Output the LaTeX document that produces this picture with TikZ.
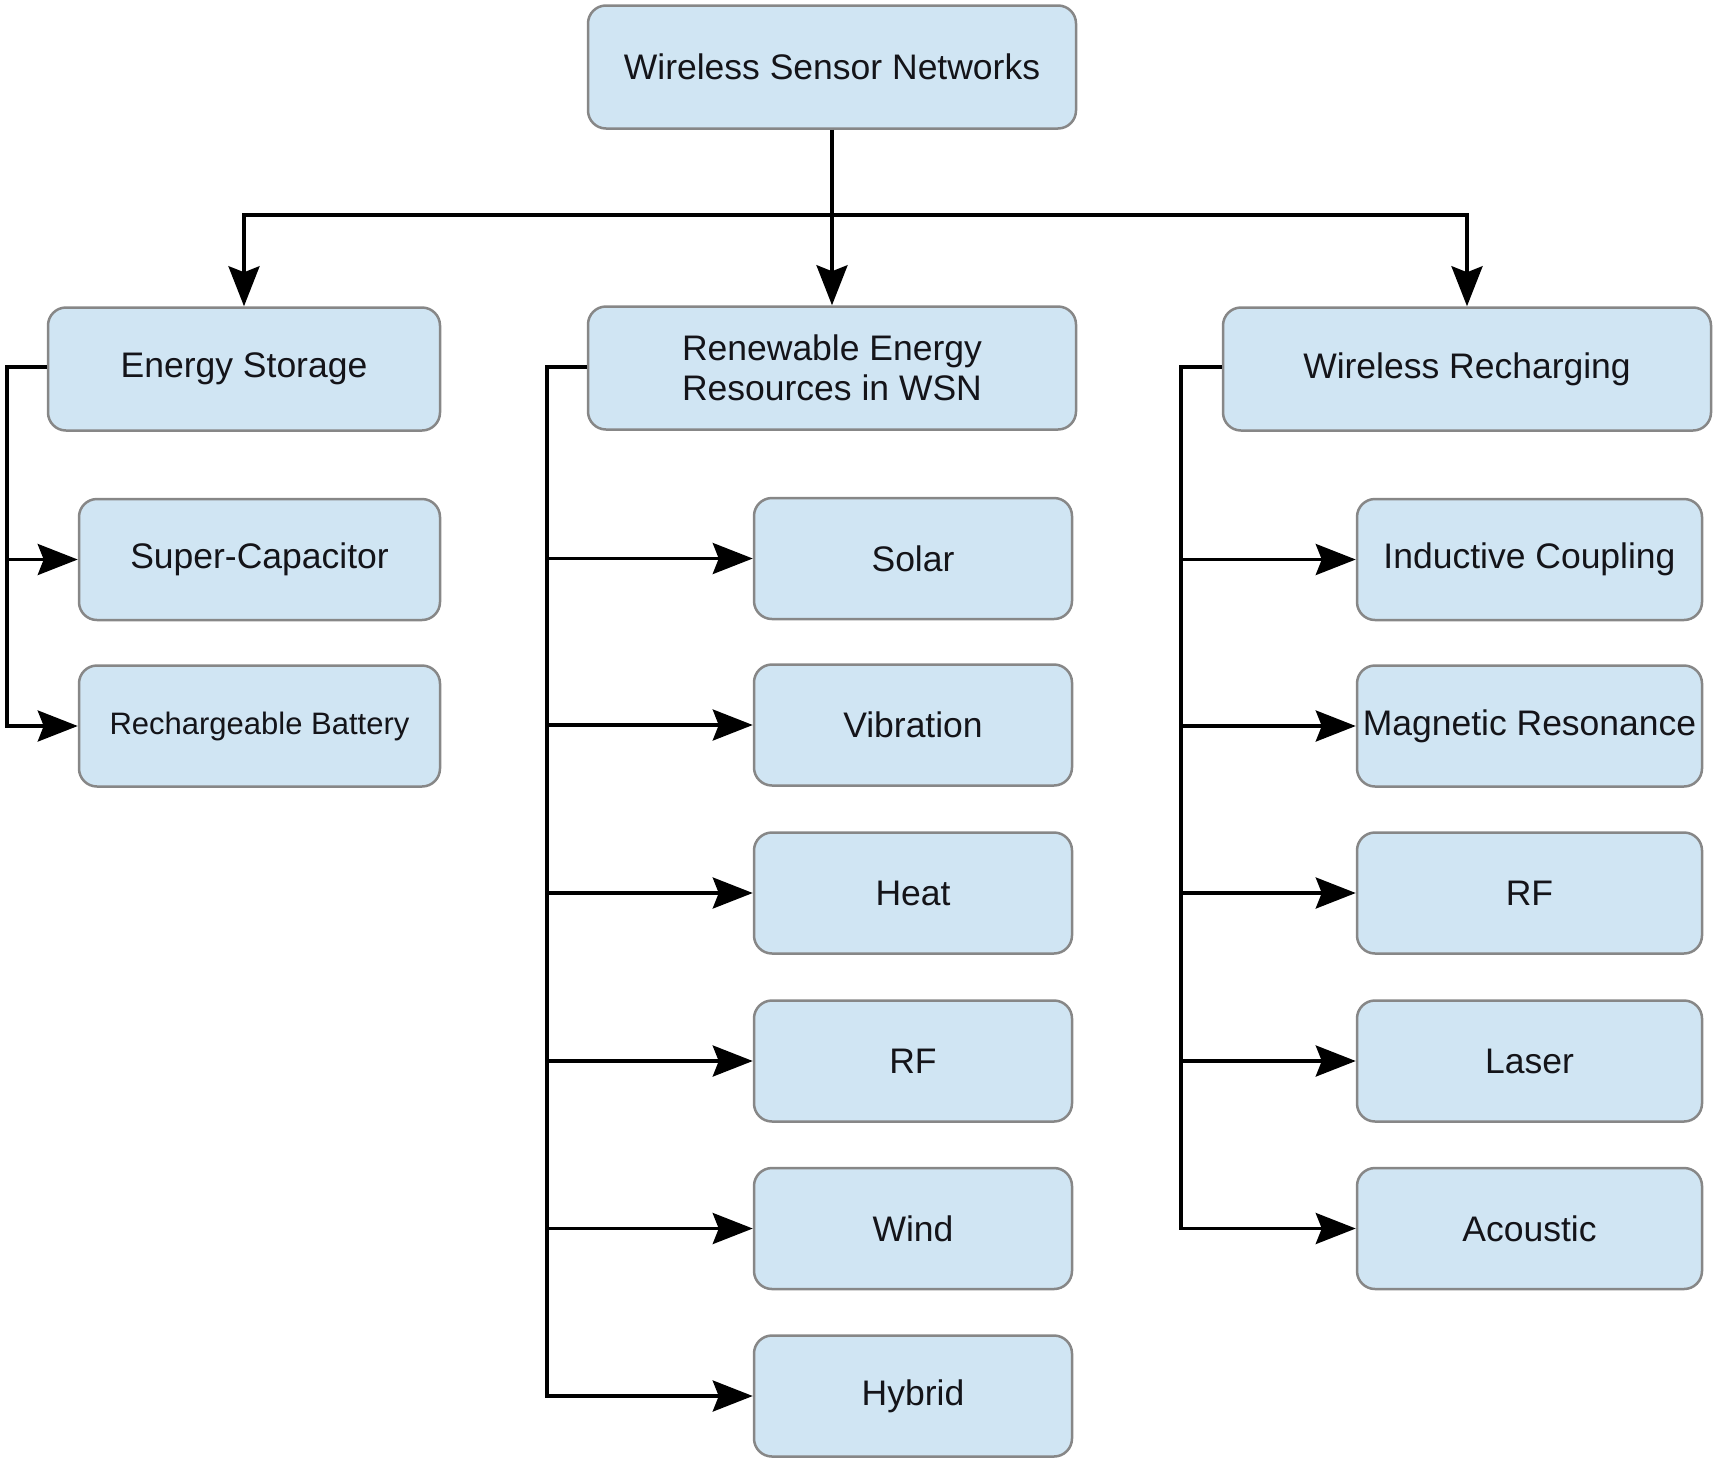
\documentclass[tikz,border=0pt]{standalone}
\usepackage{fontspec}
\setmainfont{Liberation Sans}
\usetikzlibrary{arrows.meta}
\definecolor{boxfill}{RGB}{208,229,243}
\definecolor{boxline}{RGB}{135,135,135}
\definecolor{txt}{RGB}{20,20,25}
\tikzset{
  box/.style={draw=boxline, line width=2.5pt, fill=boxfill, rounded corners=18pt,
    text=txt, font=\fontsize{35.5}{40}\selectfont, align=center, inner sep=0pt},
  conn/.style={draw=black, line width=3.5pt},
  arr/.style={conn, -{Stealth[length=40pt, width=31pt, inset=6pt]}},
}
\begin{document}
\begin{tikzpicture}[x=1pt,y=-1pt]
\useasboundingbox (0,0) rectangle (1715,1462);
% top
\node[box, minimum width=488pt, minimum height=123pt] (wsn) at (832,67) {Wireless Sensor Networks};
% level 2
\node[box, minimum width=392pt, minimum height=123pt] (es) at (244,369) {Energy Storage};
\node[box, minimum width=488pt, minimum height=123pt] (ren) at (832,368) {Renewable Energy\\Resources in WSN};
\node[box, minimum width=488pt, minimum height=123pt] (wr) at (1467,369) {Wireless Recharging};
% left children
\node[box, minimum width=361pt, minimum height=121pt] (sc) at (259.5,559.5) {Super-Capacitor};
\node[box, minimum width=361pt, minimum height=121pt, font=\fontsize{31}{36}\selectfont] (rb) at (259.5,726) {Rechargeable Battery};
% middle children
\node[box, minimum width=318pt, minimum height=121pt] (so) at (913,558.5) {Solar};
\node[box, minimum width=318pt, minimum height=121pt] (vi) at (913,725) {Vibration};
\node[box, minimum width=318pt, minimum height=121pt] (he) at (913,893) {Heat};
\node[box, minimum width=318pt, minimum height=121pt] (rf1) at (913,1061) {RF};
\node[box, minimum width=318pt, minimum height=121pt] (wi) at (913,1228.5) {Wind};
\node[box, minimum width=318pt, minimum height=121pt] (hy) at (913,1396) {Hybrid};
% right children
\node[box, minimum width=345pt, minimum height=121pt] (ic) at (1529.5,559.5) {Inductive Coupling};
\node[box, minimum width=345pt, minimum height=121pt] (mr) at (1529.5,726) {Magnetic Resonance};
\node[box, minimum width=345pt, minimum height=121pt] (rf2) at (1529.5,893) {RF};
\node[box, minimum width=345pt, minimum height=121pt] (la) at (1529.5,1061) {Laser};
\node[box, minimum width=345pt, minimum height=121pt] (ac) at (1529.5,1228.5) {Acoustic};
% top connectors
\coordinate (bus) at (832,215);
\draw[arr] (wsn.south) -- (ren.north);
\draw[arr] (bus) -| (es.north);
\draw[arr] (bus) -| (wr.north);
% left trunk
\coordinate (tl) at (7,367);
\draw[arr] (es.west) ++(0,-2) -- (tl) |- (rb.west);
\draw[arr] (tl |- sc.west) -- (sc.west);
% middle trunk
\coordinate (tm) at (547,367);
\draw[arr] (ren.west) ++(0,-1) -- (tm) |- (hy.west);
\foreach \n in {so,vi,he,rf1,wi} \draw[arr] (tm |- \n.west) -- (\n.west);
% right trunk
\coordinate (tr) at (1181,367);
\draw[arr] (wr.west) ++(0,-2) -- (tr) |- (ac.west);
\foreach \n in {ic,mr,rf2,la} \draw[arr] (tr |- \n.west) -- (\n.west);
\end{tikzpicture}
\end{document}
